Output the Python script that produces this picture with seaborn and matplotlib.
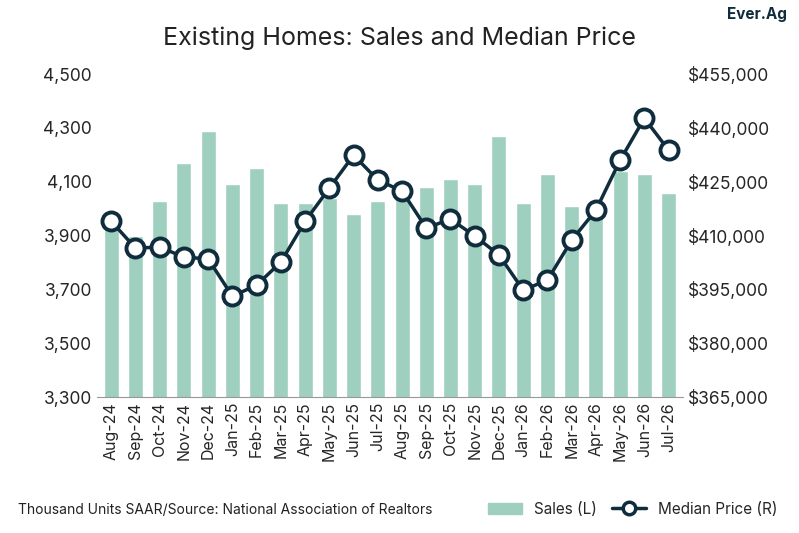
import matplotlib
matplotlib.use("Agg")
import matplotlib.pyplot as plt
import seaborn as sns
import pandas as pd
from matplotlib.ticker import FuncFormatter
from matplotlib.lines import Line2D
from matplotlib.patches import Patch

months = ["Aug-24","Sep-24","Oct-24","Nov-24","Dec-24","Jan-25","Feb-25","Mar-25","Apr-25","May-25","Jun-25","Jul-25",
          "Aug-25","Sep-25","Oct-25","Nov-25","Dec-25","Jan-26","Feb-26","Mar-26","Apr-26","May-26","Jun-26","Jul-26"]
sales = [3950,3900,4030,4170,4290,4090,4150,4020,4020,4040,3980,4030,
         4070,4080,4110,4090,4270,4020,4130,4010,4010,4140,4130,4060]
price = [414000,406500,406800,404000,403500,393100,396200,402600,414000,423200,432400,425500,
         422400,412100,414600,409900,404600,394800,397600,408700,417100,431000,442700,433800]

sns.set_style("white")
plt.rcParams['font.family'] = ['Inter', 'DejaVu Sans']
df = pd.DataFrame({"m": months, "s": sales, "p": price})

fig = plt.figure(figsize=(7.99, 5.33), dpi=100)
ax = fig.add_axes([0.121, 0.255, 0.734, 0.606])
bar_c = "#9fd0bf"; line_c = "#0f2d3c"
sns.barplot(data=df, x="m", y="s", color=bar_c, ax=ax, width=0.62, saturation=1)
ax.set_ylim(3300, 4500)
ax.set_yticks(range(3300, 4501, 200))
ax.yaxis.set_major_formatter(FuncFormatter(lambda v, p: f"{int(v):,}"))
ax.set_xlabel(""); ax.set_ylabel("")
ax.tick_params(axis='x', rotation=90, labelsize=11.5, length=0)
ax.tick_params(axis='y', labelsize=12.5, length=0)
ax.grid(False)
for s in ["top", "right", "left"]:
    ax.spines[s].set_visible(False)
ax.spines["bottom"].set_color("#999999")

ax2 = ax.twinx()
sns.lineplot(x=list(range(len(months))), y=price, ax=ax2, color=line_c, lw=2.5,
             marker="o", markersize=13, markerfacecolor="white", markeredgecolor=line_c, markeredgewidth=2.8)
ax2.set_ylim(365000, 455000)
ax2.set_yticks(range(365000, 455001, 15000))
ax2.yaxis.set_major_formatter(FuncFormatter(lambda v, p: f"${int(v):,}"))
ax2.tick_params(axis='y', labelsize=12.5, length=0)
for s in ["top", "right", "left", "bottom"]:
    ax2.spines[s].set_visible(False)
ax2.set_xlim(-0.6, len(months) - 0.4)
ax.set_xlim(-0.6, len(months) - 0.4)

fig.text(0.5, 0.915, "Existing Homes: Sales and Median Price", ha="center", fontsize=18, color="#222222")
fig.text(0.022, 0.035, "Thousand Units SAAR/Source: National Association of Realtors", fontsize=10, color="#222222")
handles = [Patch(color=bar_c, label="Sales (L)"),
           Line2D([0], [0], color=line_c, lw=2.5, marker="o", markersize=9, markerfacecolor="white",
                  markeredgewidth=2.5, label="Median Price (R)")]
fig.legend(handles=handles, loc="lower right", bbox_to_anchor=(0.99, 0.005), ncol=2, frameon=False,
           fontsize=11, handlelength=2.2, columnspacing=1.0)
fig.text(0.985, 0.965, "Ever.Ag", ha="right", fontsize=11, fontweight="bold", color="#0f2d3c")
fig.savefig("out.png", dpi=100)
